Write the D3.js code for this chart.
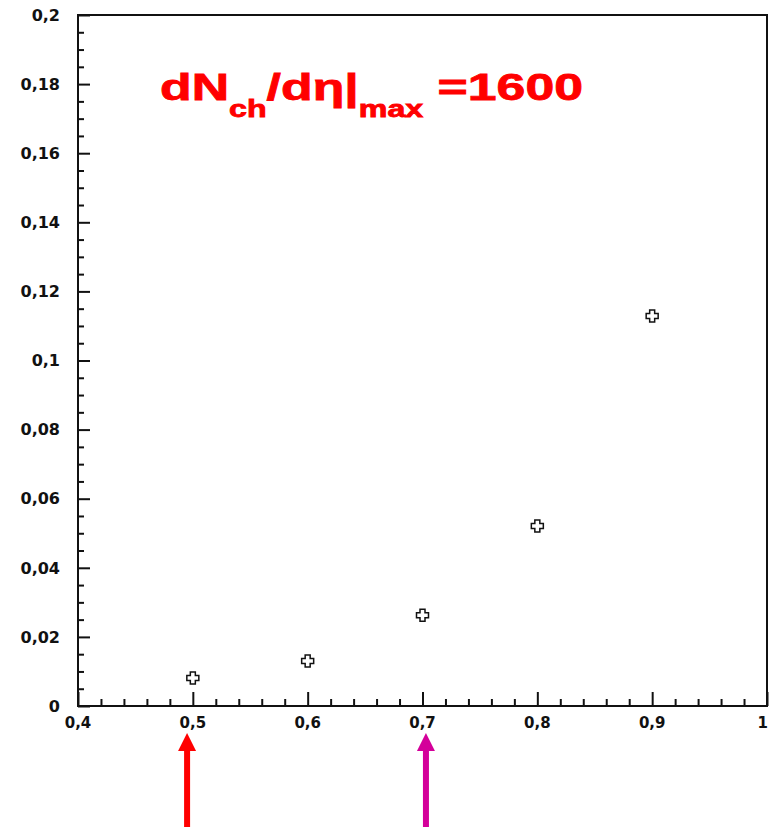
<!DOCTYPE html>
<html>
<head>
<meta charset="utf-8">
<script src="https://cdn.jsdelivr.net/npm/d3@7"></script>
<style>
  body { margin: 0; background: white; }
  svg { display: block; }
</style>
</head>
<body>
<div id="chart"></div>
<script>
// data
var xs = [0.5, 0.6, 0.7, 0.8, 0.9];
var ys = [0.0081, 0.0130, 0.0263, 0.0521, 0.1129];
var xMajor = [0.4, 0.5, 0.6, 0.7, 0.8, 0.9, 1.0];
var xLabels = ["0,4", "0,5", "0,6", "0,7", "0,8", "0,9", "1"];
var yMajor = [0, 0.02, 0.04, 0.06, 0.08, 0.1, 0.12, 0.14, 0.16, 0.18, 0.2];
var yLabels = ["0", "0,02", "0,04", "0,06", "0,08", "0,1", "0,12", "0,14", "0,16", "0,18", "0,2"];
var arrowX = [0.495, 0.703];
var arrowColor = ["#ff0000", "#d4009a"];

var W = 769, H = 827;
var margin = {left: 78, top: 15, right: 2, bottom: 121};

var svg = d3.select("#chart").append("svg")
  .attr("width", W)
  .attr("height", H);

var x = d3.scaleLinear().domain([0.4, 1.0]).range([margin.left, W - margin.right]);
var y = d3.scaleLinear().domain([0, 0.2]).range([H - margin.bottom, margin.top]);

// minor ticks
var xMinor = d3.range(0.42, 1.0, 0.02).filter(function(v){ return Math.abs(v*10 - Math.round(v*10)) > 0.01; });
var yMinor = d3.range(0.005, 0.2, 0.005).filter(function(v){ return Math.abs(v*50 - Math.round(v*50)) > 0.01; });

function styleAxis(g) {
  g.select(".domain").remove();
  g.selectAll("line").attr("stroke", "#111").attr("stroke-width", 2);
}

svg.append("g")
  .attr("transform", "translate(0," + y(0) + ")")
  .call(d3.axisBottom(x).tickValues(xMajor).tickSize(-14).tickFormat(""))
  .call(styleAxis);
svg.append("g")
  .attr("transform", "translate(0," + y(0) + ")")
  .call(d3.axisBottom(x).tickValues(xMinor).tickSize(-7).tickFormat(""))
  .call(styleAxis);
svg.append("g")
  .attr("transform", "translate(" + x(0.4) + ",0)")
  .call(d3.axisLeft(y).tickValues(yMajor).tickSize(-12).tickFormat(""))
  .call(styleAxis);
svg.append("g")
  .attr("transform", "translate(" + x(0.4) + ",0)")
  .call(d3.axisLeft(y).tickValues(yMinor).tickSize(-6).tickFormat(""))
  .call(styleAxis);

// frame
svg.append("rect")
  .attr("x", x(0.4))
  .attr("y", y(0.2))
  .attr("width", x(1.0) - x(0.4))
  .attr("height", y(0) - y(0.2))
  .attr("fill", "none")
  .attr("stroke", "#111")
  .attr("stroke-width", 2);

// tick labels
svg.append("g").selectAll("text")
  .data(yMajor)
  .enter().append("text")
  .attr("x", 60)
  .attr("y", function(d) { return y(d); })
  .attr("dy", "0.36em")
  .attr("text-anchor", "end")
  .style("font-family", "DejaVu Sans")
  .style("font-weight", "bold")
  .style("font-size", "16px")
  .style("fill", "#111")
  .text(function(d, i) { return yLabels[i]; });

svg.append("g").selectAll("text")
  .data(xMajor)
  .enter().append("text")
  .attr("x", function(d, i) { return i == xMajor.length - 1 ? W - 1 : x(d); })
  .attr("y", y(0) + 22)
  .attr("text-anchor", function(d, i) { return i == xMajor.length - 1 ? "end" : "middle"; })
  .style("font-family", "DejaVu Sans")
  .style("font-weight", "bold")
  .style("font-size", "15px")
  .style("fill", "#111")
  .text(function(d, i) { return xLabels[i]; });

// open cross markers
function crossPath(a, b) {
  return "M" + (-b) + "," + (-a) + "H" + b + "V" + (-b) + "H" + a + "V" + b +
         "H" + b + "V" + a + "H" + (-b) + "V" + b + "H" + (-a) + "V" + (-b) + "H" + (-b) + "Z";
}
svg.append("g").selectAll("path")
  .data(xs)
  .enter().append("path")
  .attr("transform", function(d, i) { return "translate(" + x(d) + "," + y(ys[i]) + ")"; })
  .attr("d", crossPath(6, 2.5))
  .attr("fill", "white")
  .attr("stroke", "#111")
  .attr("stroke-width", 1.5);

// title
var title = svg.append("text")
  .attr("transform", "translate(160,100) scale(1.4,1)")
  .style("font-family", "Liberation Sans, Arial")
  .style("font-weight", "bold")
  .style("font-size", "37px")
  .style("fill", "#ff0000")
  .style("stroke", "#ff0000")
  .style("stroke-width", 0.8);
title.append("tspan").text("dN");
title.append("tspan").attr("dy", 17).style("font-size", "23px").text("ch");
title.append("tspan").attr("dy", -17).text("/d\u03b7|");
title.append("tspan").attr("dy", 17).style("font-size", "23px").text("max");
title.append("tspan").attr("dy", -17).text(" =1600");

// arrows under the axis
var arrows = svg.append("g").selectAll("g")
  .data(arrowX)
  .enter().append("g")
  .attr("transform", function(d) { return "translate(" + x(d) + ",0)"; });
arrows.append("rect")
  .attr("x", -3)
  .attr("y", 750)
  .attr("width", 6)
  .attr("height", H - 750)
  .attr("fill", function(d, i) { return arrowColor[i]; });
arrows.append("path")
  .attr("d", "M-9,751 L0,733 L9,751 Z")
  .attr("fill", function(d, i) { return arrowColor[i]; });
</script>
</body>
</html>
